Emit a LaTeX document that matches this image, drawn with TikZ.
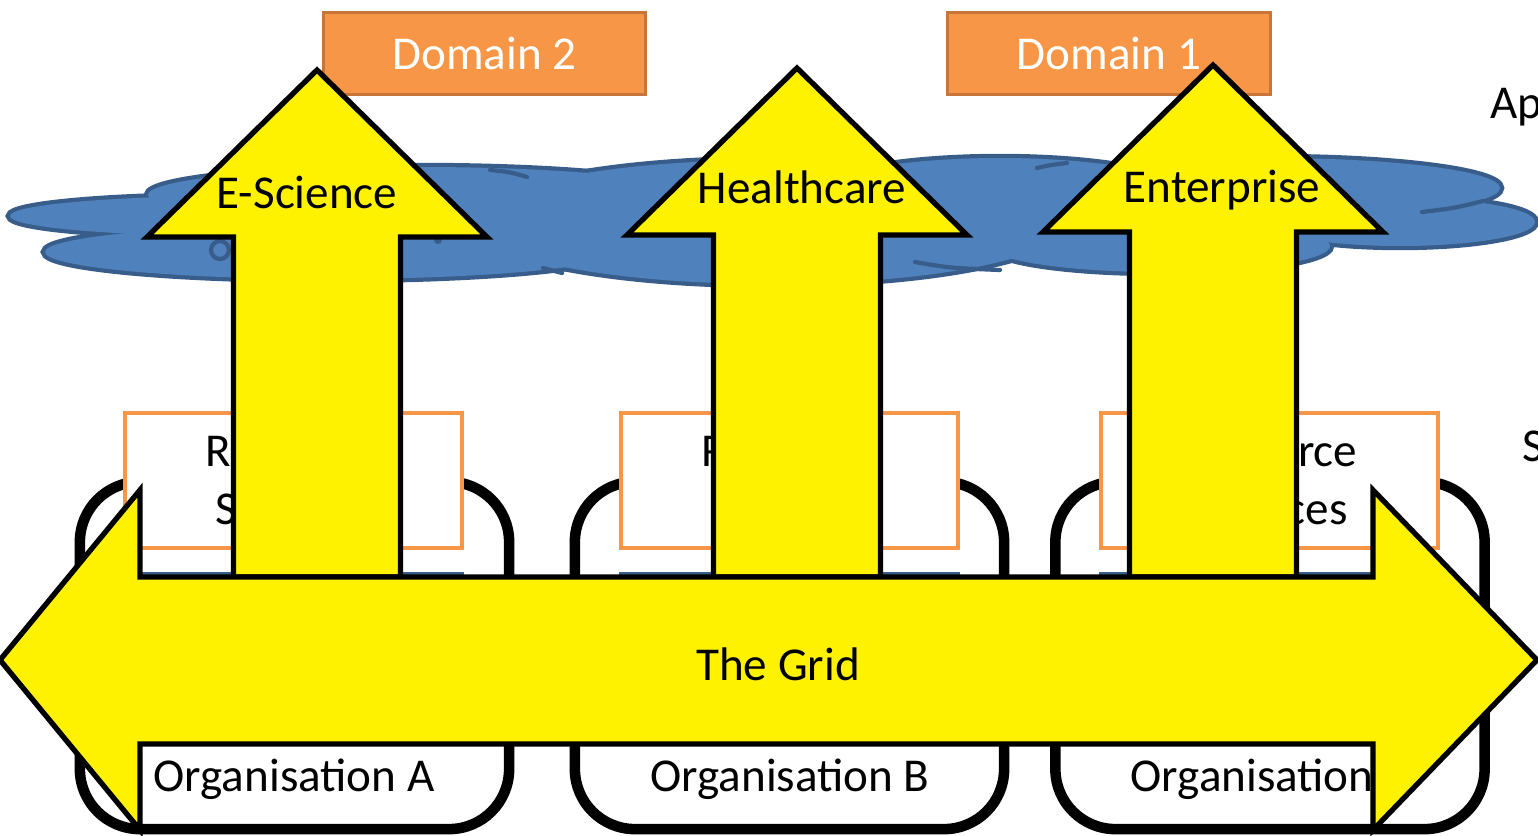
\documentclass[tikz,border=0pt]{standalone}
\usepackage{fontspec}
\setmainfont{Carlito}
\usepackage{tikz}
\usepackage{xcolor}
\usetikzlibrary{positioning}

\definecolor{cloudblue}{HTML}{4F81BD}
\definecolor{cloudedge}{HTML}{385D8A}
\definecolor{domorange}{HTML}{F79646}
\definecolor{domedge}{HTML}{C8753A}
\definecolor{resorange}{HTML}{F79646}

\begin{document}
\begin{tikzpicture}[x=0.01cm,y=-0.01cm,
	font=\fontsize{13.4}{16.4}\selectfont,
	orgbox/.style={draw=black,line width=3pt,fill=white,rounded corners=0.6cm,minimum width=4.29cm,minimum height=3.47cm},
	resbox/.style={draw=resorange,line width=1.1pt,fill=white,minimum width=3.37cm,minimum height=1.35cm,align=center},
	basebox/.style={draw=cloudedge,line width=1.1pt,fill=cloudblue,minimum width=3.37cm,minimum height=0.9cm},
	dombox/.style={draw=domedge,line width=0.9pt,fill=domorange,text=white,minimum width=3.22cm,minimum height=0.82cm},
	bigarrow/.style={draw=black,line width=1.5pt,fill=yellow,line join=miter},
	cloudline/.style={draw=cloudedge,line width=1.2pt,line cap=round},
	lbl/.style={anchor=base,inner sep=0pt}]
	\useasboundingbox (0,0) rectangle (1538,836);
	%cloud: outlined lobes, then filled again to hide the inner edges
	\foreach \cx/\cy/\rx/\ry in {235/216/225/20, 330/252/285/27, 420/195/272/28, 770/222/300/62, 1000/200/200/42, 1270/188/230/30, 1400/222/135/24, 1160/246/170/26}
		\draw[cloudedge,line width=2.4pt] (\cx,\cy) ellipse [x radius=\rx, y radius=\ry];
	\foreach \cx/\cy/\rx/\ry in {235/216/225/20, 330/252/285/27, 420/195/272/28, 770/222/300/62, 1000/200/200/42, 1270/188/230/30, 1400/222/135/24, 1160/246/170/26}
		\fill[cloudblue] (\cx,\cy) ellipse [x radius=\rx, y radius=\ry];
	%a few inner folds of the cloud
	\draw[cloudline] (490,170) .. controls (510,172) .. (527,177);
	\draw[cloudline] (543,268) .. controls (552,271) .. (562,273);
	\draw[cloudline] (915,262) .. controls (950,268) .. (1000,270);
	\draw[cloudline] (1037,168) .. controls (1050,165) .. (1067,163);
	\draw[cloudline] (1422,212) .. controls (1455,208) .. (1483,201);
	\draw[cloudline] (220,250) circle [radius=9];
	\fill[cloudedge] (438,240) circle [radius=4];
	%domains
	\node[dombox] (dom2) at (484.5,53.5) {Domain 2};
	\node[dombox] (dom1) at (1109,53.5) {Domain 1};
	%organisations with their resources
	\node[orgbox] (orgA) at (294.5,655.5) {};
	\node[orgbox] (orgB) at (789.5,655.5) {};
	\node[orgbox] (orgC) at (1270,655.5) {};
	\node[lbl] (orgAtext) at (294,791) {Organisation A};
	\node[lbl] (orgBtext) at (790,791) {Organisation B};
	\node[lbl] (orgCtext) at (1270,791) {Organisation C};
	\node[basebox] (baseA) at (293.5,619) {};
	\node[basebox] (baseB) at (789.5,619) {};
	\node[basebox] (baseC) at (1269.5,619) {};
	\node[resbox] (resA) at (293.5,480.5) {Resource\\Services};
	\node[resbox] (resB) at (789.5,480.5) {Resource\\Services};
	\node[resbox] (resC) at (1269.5,480.5) {Resource\\Services};
	%application arrows
	\foreach \ax/\t in {317/70, 797/68, 1213/65}
		\draw[bigarrow] (\ax,\t) -- (\ax+170,\t+167) -- (\ax+83.5,\t+167) -- (\ax+83.5,577)
			-- (\ax-83.5,577) -- (\ax-83.5,\t+167) -- (\ax-170,\t+167) -- cycle;
	\node[lbl] (escience) at (307,208) {E-Science};
	\node[lbl] (health) at (802,203) {Healthcare};
	\node[lbl] (enterprise) at (1222,202) {Enterprise};
	%grid arrow
	\draw[bigarrow] (0,660) -- (140,490) -- (140,577) -- (1373,577) -- (1373,490) -- (1537,660)
		-- (1373,830) -- (1373,744) -- (140,744) -- (140,830) -- cycle;
	\node[lbl] (grid) at (778,680) {The Grid};
	%layer names
	\node[lbl,anchor=base west] (applayer) at (1490,118) {Ap};
	\node[lbl,anchor=base west] (servlayer) at (1522,461) {S};
\end{tikzpicture}
\end{document}
